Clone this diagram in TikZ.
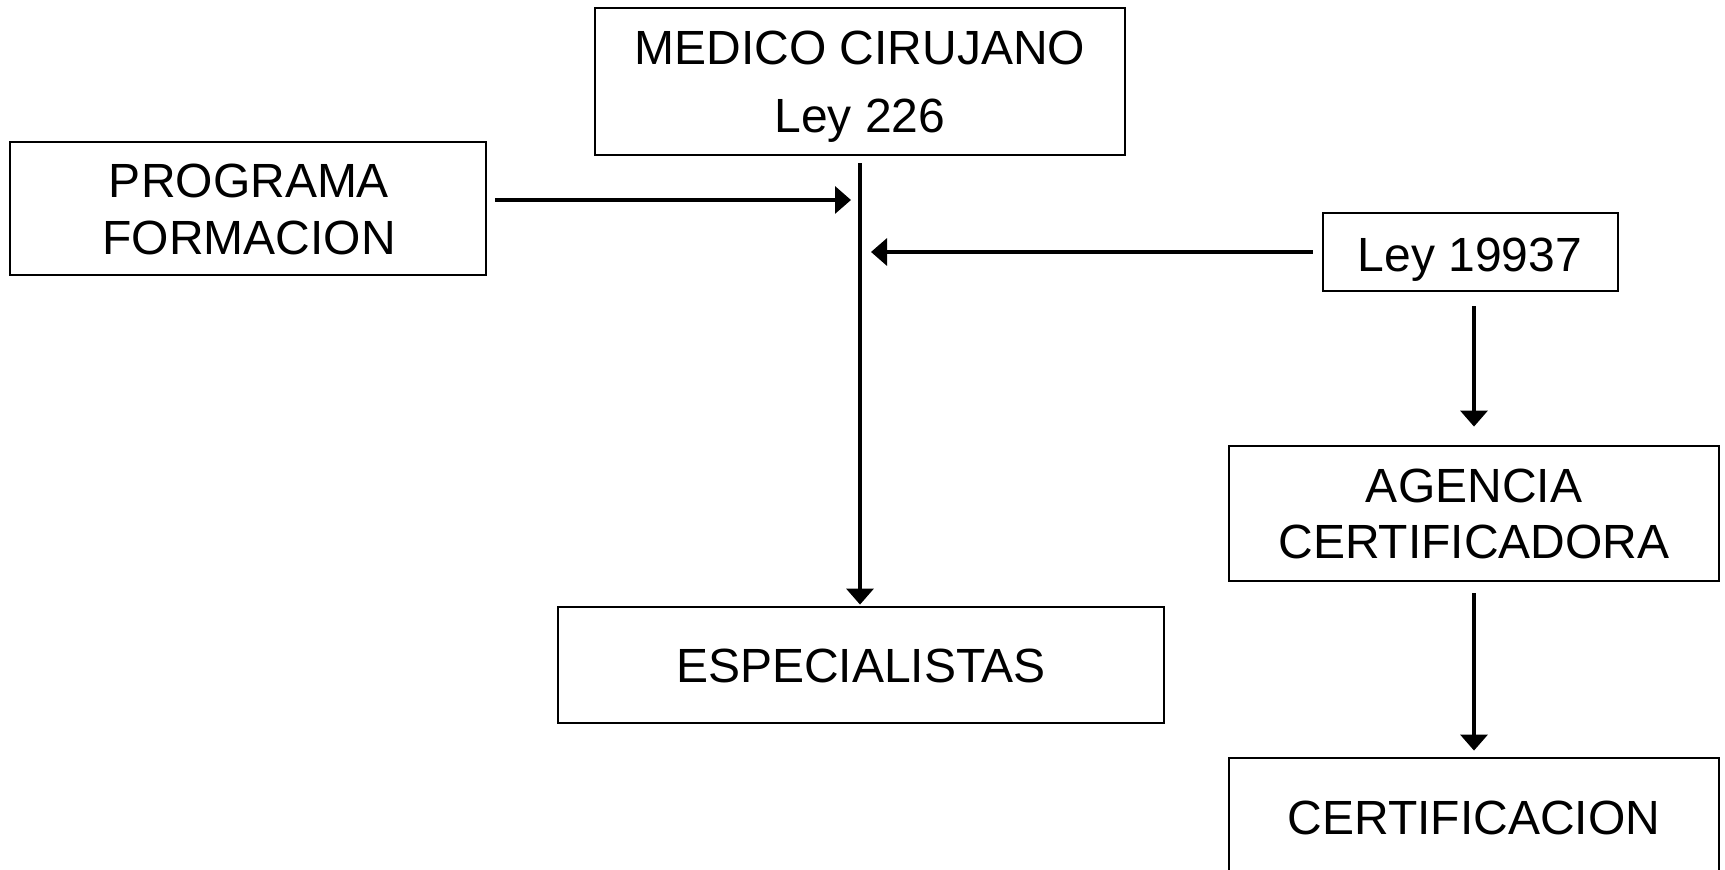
\documentclass[tikz,border=0pt]{standalone}
\usepackage{fontspec}
\setmainfont{Liberation Sans}
\usetikzlibrary{arrows.meta}
\begin{document}
\begin{tikzpicture}[x=0.5pt,y=-0.5pt,
  box/.style={draw,line width=1.4pt,rectangle,inner sep=0pt},
  lbl/.style={anchor=base,inner sep=0pt,font=\fontsize{24pt}{28pt}\selectfont},
  conn/.style={line width=1.7pt,-{Triangle[length=8pt,width=13.5pt]}}]
\path[use as bounding box,fill=white] (0,0) rectangle (1725,870);
\begin{scope}
\clip (0,0) rectangle (1725,870);
% boxes
\node[box,minimum width=265pt,minimum height=73.5pt] (med) at (860,81.5) {};
\node[box,minimum width=238pt,minimum height=66.5pt] (prog) at (248,208.5) {};
\node[box,minimum width=147.5pt,minimum height=39pt] (ley) at (1470.5,252) {};
\node[box,minimum width=245pt,minimum height=67.5pt] (ag) at (1474,513.5) {};
\node[box,minimum width=303pt,minimum height=58pt] (esp) at (861,665) {};
\node[box,minimum width=245pt,minimum height=59.5pt] (cert) at (1474,817.5) {};
% texts
\node[lbl] (medA) at (860,65) {MEDICO CIRUJANO};
\node[lbl] (medB) at (860,133) {Ley 226};
\node[lbl] (progA) at (249,198) {PROGRAMA};
\node[lbl] (progB) at (249,255) {FORMACION};
\node[lbl] (leyT) at (1470,272) {Ley 19937};
\node[lbl] (agA) at (1474,503) {AGENCIA};
\node[lbl] (agB) at (1474,559) {CERTIFICADORA};
\node[lbl] (espT) at (861,683) {ESPECIALISTAS};
\node[lbl] (certT) at (1474,835) {CERTIFICACION};
% connectors
\coordinate (vtop) at (med.south);
\draw[conn,shorten <=3.5pt,shorten >=0.5pt] (med.south) -- (med.south |- esp.north);
\coordinate (pa) at (495,200);
\draw[conn,shorten >=4.5pt] (pa) -- (pa -| vtop);
\draw[conn,shorten <=4.5pt,shorten >=5.5pt] (ley.west) -- (ley.west -| vtop);
\draw[conn,shorten <=7pt,shorten >=9pt] (ag.north |- ley.south) -- (ag.north);
\draw[conn,shorten <=5.5pt,shorten >=3pt] (ag.south) -- (cert.north);
\end{scope}
\end{tikzpicture}
\end{document}
